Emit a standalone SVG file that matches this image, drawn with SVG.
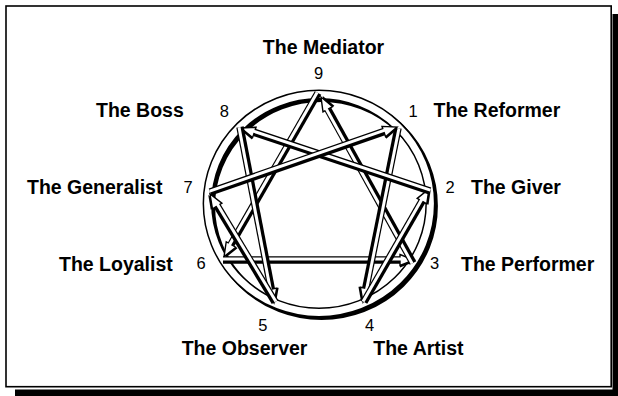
<svg xmlns="http://www.w3.org/2000/svg" width="618" height="396" viewBox="0 0 618 396">
  <style>
    .name { font-family: "Liberation Sans", Arial, Helvetica, sans-serif; font-weight: bold; font-size: 19.5px; fill: #000; }
    .num { font-family: "Liberation Sans", Arial, Helvetica, sans-serif; font-size: 16.5px; fill: #000; text-anchor: middle; }
    .tube { fill: none; stroke: #000; stroke-width: 7.5; stroke-linecap: butt; }
    .core { fill: none; stroke: #fff; stroke-width: 3; stroke-linecap: butt; }
    .ah { fill: #fff; stroke: #000; stroke-width: 1.4; stroke-linejoin: miter; }
  </style>
  <defs>
    <marker id="ahR" viewBox="-2 -9 19 18" markerWidth="19" markerHeight="18" refX="0" refY="0" orient="auto" markerUnits="userSpaceOnUse">
      <polygon points="0,-5.5 14,0 0,5.5" transform="translate(0,2)" fill="#000"/>
      <polygon class="ah" points="0,-5.5 14,0 0,5.5"/>
    </marker>
    <marker id="ahL" viewBox="-2 -9 19 18" markerWidth="19" markerHeight="18" refX="0" refY="0" orient="auto" markerUnits="userSpaceOnUse">
      <polygon points="0,-5.5 14,0 0,5.5" transform="translate(0,-2)" fill="#000"/>
      <polygon class="ah" points="0,-5.5 14,0 0,5.5"/>
    </marker>
  </defs>

  <rect width="618" height="396" fill="#fff"/>
  <!-- frame with drop shadow -->
  <rect x="612.5" y="14" width="5.5" height="382" fill="#000"/>
  <rect x="15" y="389.5" width="603" height="6.5" fill="#000"/>
  <rect x="6" y="6" width="605.2" height="380.7" fill="#fff" stroke="#000" stroke-width="1.6"/>

  <!-- ring -->
  <g id="ring">
    <ellipse cx="321.5" cy="206" rx="111.4" ry="109" fill="none" stroke="#000" stroke-width="10"/>
    <ellipse cx="319" cy="203.5" rx="111.4" ry="109" fill="none" stroke="#000" stroke-width="10"/>
    <ellipse cx="319" cy="203.5" rx="111.4" ry="109" fill="none" stroke="#fff" stroke-width="7"/>
  </g>

  <g id="connectors">
    <!-- 9 -> 6 -->
    <g id="c96">
      <path class="tube" d="M318,93 L231,244.5" marker-end="url(#ahL)"/>
      <path class="core" d="M317.1,92.5 L228.6,246.6"/>
    </g>
    <!-- 6 -> 3 -->
    <g id="c63">
      <path class="tube" d="M223,260 L400,260" marker-end="url(#ahR)"/>
      <path class="core" d="M223,259 L403,259"/>
    </g>
    <!-- 3 -> 9 -->
    <g id="c39">
      <path class="tube" d="M413,263 L327.8,109.3" marker-end="url(#ahR)"/>
      <path class="core" d="M412.1,263.5 L325.4,107.2"/>
    </g>
    <!-- 1 -> 4 -->
    <g id="c14">
      <path class="tube" d="M398,128 L365.8,288.3" marker-end="url(#ahR)"/>
      <path class="core" d="M399,128.2 L366.2,291.4"/>
    </g>
    <!-- 4 -> 2 -->
    <g id="c42">
      <path class="tube" d="M364,302 L422,201.1" marker-end="url(#ahR)"/>
      <path class="core" d="M363.1,301.5 L422.6,198"/>
    </g>
    <!-- 2 -> 8 -->
    <g id="c28">
      <path class="tube" d="M430,191 L254.3,132.4" marker-end="url(#ahL)"/>
      <path class="core" d="M430.3,190.1 L251.8,130.6"/>
    </g>
    <!-- 8 -> 5 -->
    <g id="c85">
      <path class="tube" d="M240,127 L271.3,289.2" marker-end="url(#ahL)"/>
      <path class="core" d="M239,127.2 L270.9,292.4"/>
    </g>
    <!-- 5 -> 7 -->
    <g id="c57">
      <path class="tube" d="M275,302 L217.2,206" marker-end="url(#ahL)"/>
      <path class="core" d="M275.9,301.5 L216.6,202.9"/>
    </g>
    <!-- 7 -> 1 -->
    <g id="c71">
      <path class="tube" d="M210,192 L383.8,131.6" marker-end="url(#ahR)"/>
      <path class="core" d="M209.7,191.1 L386.3,129.7"/>
    </g>
  </g>

  <g id="node-9">
    <text class="name" x="323.5" y="54" text-anchor="middle">The Mediator</text>
    <text class="num" x="318.5" y="78.5">9</text>
  </g>
  <g id="node-1">
    <text class="num" x="413" y="117">1</text>
    <text class="name" x="433.5" y="117">The Reformer</text>
  </g>
  <g id="node-2">
    <text class="num" x="450" y="192.5">2</text>
    <text class="name" x="471" y="194">The Giver</text>
  </g>
  <g id="node-3">
    <text class="num" x="434.5" y="269">3</text>
    <text class="name" x="461" y="271">The Performer</text>
  </g>
  <g id="node-4">
    <text class="num" x="369.5" y="330.5">4</text>
    <text class="name" x="373.3" y="355">The Artist</text>
  </g>
  <g id="node-5">
    <text class="num" x="262.8" y="330.5">5</text>
    <text class="name" x="181.7" y="355">The Observer</text>
  </g>
  <g id="node-6">
    <text class="num" x="201" y="269">6</text>
    <text class="name" x="59" y="271">The Loyalist</text>
  </g>
  <g id="node-7">
    <text class="num" x="188" y="192.5">7</text>
    <text class="name" x="27" y="194">The Generalist</text>
  </g>
  <g id="node-8">
    <text class="num" x="224.3" y="117">8</text>
    <text class="name" x="96" y="117">The Boss</text>
  </g>
</svg>
